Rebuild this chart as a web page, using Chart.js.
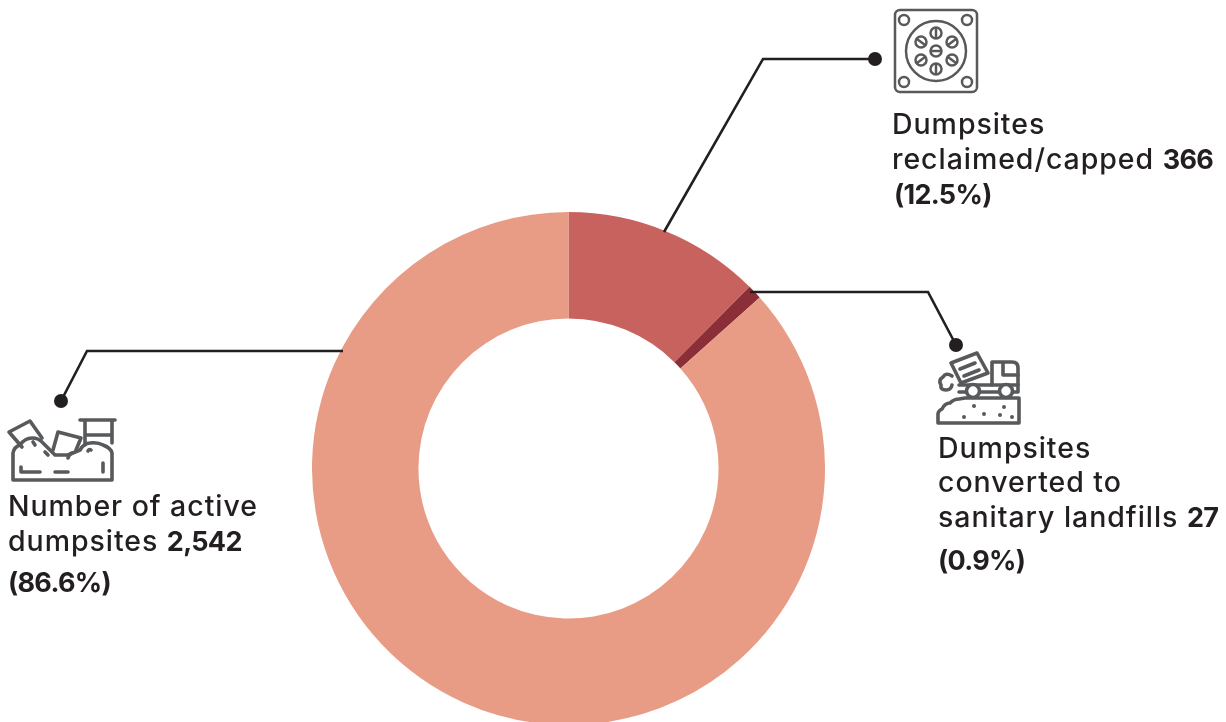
<!DOCTYPE html>
<html>
<head>
<meta charset="utf-8">
<script src="https://cdn.jsdelivr.net/npm/chart.js@4"></script>
<style>
    html, body { margin: 0; width: 1226px; height: 722px; overflow: hidden; background: #fff; }
    #wrap { position: absolute; left: 312px; top: 211.5px; width: 513px; height: 513px; }
    svg { position: absolute; left: 0; top: 0; }
    .t { position: absolute; white-space: nowrap; font: 500 28.5px/34px Inter, sans-serif; color: #231f20; letter-spacing: 0.95px; }
    .t b { font-weight: 700; font-size: 27px; letter-spacing: -0.7px; }
    .i { fill: none; stroke: #58595b; stroke-width: 3.6; stroke-linejoin: round; stroke-linecap: round; }
    .o { fill: none; stroke: #58595b; stroke-width: 2.5; }
    .l { fill: none; stroke: #231f20; stroke-width: 2.6; }
</style>
</head>
<body>
<div id="wrap"><canvas id="donut" width="513" height="513"></canvas></div>

<svg width="1226" height="722">
    <!-- leaders -->
    <polyline class="l" points="664,232 763,59 875,59"/>
    <circle cx="875" cy="59" r="7" fill="#231f20"/>
    <polyline class="l" points="750,292 928,292 956,345"/>
    <circle cx="956" cy="345" r="7" fill="#231f20"/>
    <polyline class="l" points="343,351 87,351 61,401"/>
    <circle cx="61" cy="401" r="7" fill="#231f20"/>

    <!-- plate icon -->
    <g class="o">
        <rect x="895" y="10" width="82" height="82" rx="5"/>
        <circle cx="904" cy="20" r="5"/><circle cx="967" cy="20" r="5"/>
        <circle cx="904" cy="82" r="5"/><circle cx="967" cy="82" r="5"/>
        <circle cx="936" cy="51" r="30"/>
        <circle cx="936" cy="51" r="5.5"/><path d="M931 51h10"/>
        <circle cx="936" cy="33" r="5.5"/><path d="M936 28v10"/>
        <circle cx="936" cy="69" r="5.5"/><path d="M936 64v10"/>
        <circle cx="921" cy="42" r="5.5"/><path d="M917 39l8 6"/>
        <circle cx="952" cy="42" r="5.5"/><path d="M948 45l8-6"/>
        <circle cx="921" cy="60" r="5.5"/><path d="M917 63l8-6"/>
        <circle cx="952" cy="60" r="5.5"/><path d="M948 57l8 6"/>
    </g>

    <!-- truck icon -->
    <g class="i">
        <path d="M951 363l26-10 11 20-27 10z"/>
        <path d="M960 369l15-6M964 376l15-6"/>
        <path d="M992 385v-23h20q6 0 6 6v17"/>
        <path d="M1003 363v12h15"/>
        <path d="M959 385h59v7h-5M999 392h-19M966 392h-7z"/>
        <circle cx="973" cy="391" r="6.5" fill="#fff"/>
        <circle cx="1006" cy="391" r="6.5" fill="#fff"/>
        <path d="M952 376q-6-4-9 1-5 3-2 8-1 5 5 5 5 0 6-5"/>
        <path d="M965 398h54v25h-81v-9q0-3 4-5 3-6 8-6 4-4 9-4z"/>
    </g>
    <g fill="#58595b">
        <circle cx="974" cy="406" r="2"/><circle cx="1004" cy="407" r="2"/>
        <circle cx="984" cy="414" r="2"/><circle cx="1000" cy="415" r="2"/>
        <circle cx="964" cy="417" r="2"/><circle cx="1012" cy="417" r="2"/>
    </g>

    <!-- waste pile icon -->
    <g class="i">
        <path d="M13 480v-27q1-6 7-8 5-7 12-7 7 0 11 5l12 12h13l12-5q4-7 10-7 8-1 13 2 8 3 9 8v27z"/>
        <path d="M22 447l-13-15 21-11 12 17"/>
        <path d="M53 450l5-18 23 6-5 12"/>
        <path d="M80 420h35M85 420v25M112 420v23M85 435h27"/>
        <path d="M21 467v5h19M55 472h13M103 463v9"/>
        <path d="M33 442l2 3M45 452l3 3M68 458q1-4 4-5M88 451q1-2 3-1"/>
    </g>
</svg>

<div class="t" style="left:892px;top:107px">Dumpsites</div>
<div class="t" style="left:892px;top:142px">reclaimed/capped <b>366</b></div>
<div class="t" style="left:894px;top:177px"><b>(12.5%)</b></div>

<div class="t" style="left:938px;top:431px">Dumpsites</div>
<div class="t" style="left:938px;top:465px">converted to</div>
<div class="t" style="left:938px;top:500px">sanitary landfills <b>27</b></div>
<div class="t" style="left:938px;top:543px"><b>(0.9%)</b></div>

<div class="t" style="left:8px;top:489px">Number of active</div>
<div class="t" style="left:8px;top:524px">dumpsites <b>2,542</b></div>
<div class="t" style="left:8px;top:565px"><b>(86.6%)</b></div>

<script>
const categories = ['Dumpsites reclaimed/capped', 'Dumpsites converted to sanitary landfills', 'Number of active dumpsites'];
const dumpsites = [366, 27, 2542];
const sliceColors = ['#c7625f', '#8b2e38', '#e89c85'];

new Chart(document.getElementById('donut'), {
    type: 'doughnut',
    data: {
        labels: categories,
        datasets: [{
            data: dumpsites,
            backgroundColor: sliceColors,
            borderWidth: 0
        }]
    },
    options: {
        responsive: false,
        animation: false,
        cutout: '58.5%',
        plugins: {
            legend: { display: false },
            tooltip: { enabled: false }
        }
    }
});
</script>
</body>
</html>
